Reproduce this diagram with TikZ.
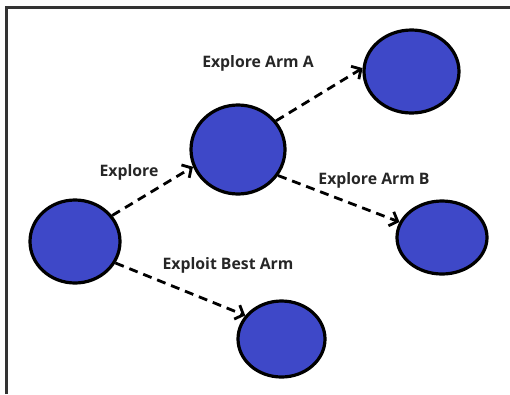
\documentclass[tikz,border=0pt]{standalone}
\usepackage{fontspec}
\setmainfont{Open Sans}
\usetikzlibrary{arrows.meta,shapes.geometric}
\definecolor{armblue}{RGB}{62,72,200}

\begin{document}
\begin{tikzpicture}[x=1pt,y=-1pt,>={Straight Barb[length=7pt,width=15pt]},
  arm/.style={ellipse,draw,line width=3.2pt,fill=armblue,inner sep=0pt},
  pull/.style={->,line width=2.8pt,dash pattern=on 9pt off 6pt},
  lbl/.style={font=\fontsize{15.8}{18}\selectfont\bfseries,text=black!85}]
  \useasboundingbox (0,0) rectangle (510,394);
  \draw[line width=2.2pt,black!80] (6.5,394) -- (6.5,7.5) -- (510,7.5);

  % the five states
  \node[arm,minimum width=90pt,minimum height=83pt] (start) at (75,241.5) {};
  \node[arm,minimum width=94pt,minimum height=89pt] (mid) at (238,149.5) {};
  \node[arm,minimum width=95pt,minimum height=83pt] (armA) at (411.5,71.5) {};
  \node[arm,minimum width=90pt,minimum height=73pt] (armB) at (442,237.5) {};
  \node[arm,minimum width=87pt,minimum height=76pt] (best) at (281.5,339) {};

  \draw[pull] (start.35) -- (mid.201);
  \draw[pull] (mid.37) -- (armA.176);
  \draw[pull] (mid.-33) -- (armB.160);
  \draw[pull] (start.-28) -- (best.147);

  \node[lbl] (lexp) at (129,172) {Explore};
  \node[lbl] (lexpA) at (258,63) {Explore Arm A};
  \node[lbl] (lexpB) at (374,180) {Explore Arm B};
  \node[lbl] (lbest) at (228,265) {Exploit Best Arm};
\end{tikzpicture}
\end{document}
